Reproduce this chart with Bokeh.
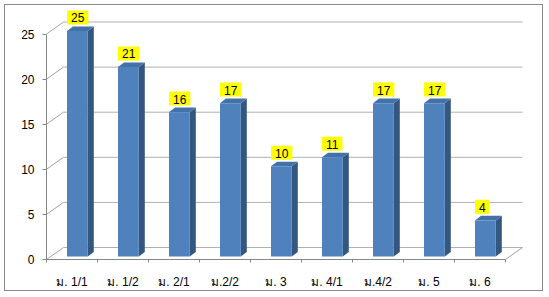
from bokeh.plotting import figure
from bokeh.models import FixedTicker, ColumnDataSource
from bokeh.core.properties import value
from bokeh.embed import file_html
from bokeh.resources import INLINE

# ---- data ----
categories = ["ม. 1/1", "ม. 1/2", "ม. 2/1", "ม.2/2", "ม. 3", "ม. 4/1", "ม.4/2", "ม. 5", "ม. 6"]
counts = [25, 21, 16, 17, 10, 11, 17, 17, 4]
y_ticks = [0, 5, 10, 15, 20, 25]

# ---- geometry (data units) ----
XPX, YPX = 51.0, 9.02
n = len(categories)
WALL_DX, WALL_DY = 17 / XPX, 12 / YPX        # depth of the 3-D box
BAR_L, BAR_R = 20.5 / XPX, 41.3 / XPX         # bar front face inside a category
BAR_BASE = 3 / YPX
BAR_DX, BAR_DY = 6 / XPX, 4.6 / YPX           # bar depth

p = figure(width=539, height=287, output_backend="svg", toolbar_location=None,
           x_range=(0, 481 / XPX), y_range=(0, 252 / YPX),
           min_border_left=41, min_border_right=17, min_border_top=2, min_border_bottom=33,
           background_fill_color="white", border_fill_color="white",
           styles={"margin": "4px 0 0 4px", "border": "1px solid #8a8a8a"})
p.outline_line_color = None
p.xgrid.visible = False
p.ygrid.visible = False

# walls
grid_col = "#b0b0b0"
p.segment(x0=[0] * len(y_ticks), y0=y_ticks,
          x1=[WALL_DX] * len(y_ticks), y1=[v + WALL_DY for v in y_ticks],
          line_color="#a0a0a0", line_width=1)
p.segment(x0=[WALL_DX] * len(y_ticks), y0=[v + WALL_DY for v in y_ticks],
          x1=[n + WALL_DX] * len(y_ticks), y1=[v + WALL_DY for v in y_ticks],
          line_color=grid_col, line_width=1)
p.segment(x0=[n], y0=[0], x1=[n + WALL_DX], y1=[WALL_DY], line_color="#a0a0a0", line_width=1)

# bars
lefts = [i + BAR_L for i in range(n)]
rights = [i + BAR_R for i in range(n)]
tops = [v + BAR_BASE for v in counts]
src = ColumnDataSource(dict(left=lefts, right=rights, bottom=[BAR_BASE] * n, top=tops))
side_xs = [[r, r + BAR_DX, r + BAR_DX, r] for r in rights]
side_ys = [[BAR_BASE, BAR_BASE + BAR_DY, t + BAR_DY, t] for t in tops]
top_xs = [[l, l + BAR_DX, r + BAR_DX, r] for l, r in zip(lefts, rights)]
top_ys = [[t, t + BAR_DY, t + BAR_DY, t] for t in tops]
p.patches(side_xs, side_ys, fill_color="#34577f", line_color=None)
p.patches(top_xs, top_ys, fill_color="#4372a8", line_color=None)
p.quad(left="left", right="right", bottom="bottom", top="top", source=src,
       fill_color="#4f81bd", line_color=None)

# value labels
lab = ColumnDataSource(dict(x=lefts, y=[t + BAR_DY + 2.0 / YPX for t in tops],
                            text=[str(v) for v in counts]))
p.text(x="x", y="y", text="text", source=lab, anchor="bottom_left",
       padding=dict(left=4, right=4, top=3, bottom=2),
       background_fill_color="#ffff00", text_color="black",
       text_font=value("Liberation Sans"), text_font_size="12px",
       text_align="left", text_baseline="bottom")

# axes
axis_col = "#868686"
yax = p.yaxis[0]
yax.ticker = FixedTicker(ticks=y_ticks)
yax.bounds = (0, 25)
yax.axis_line_color = axis_col
yax.major_tick_line_color = axis_col
yax.major_tick_in = 0
yax.major_tick_out = 4
yax.minor_tick_line_color = None
yax.major_label_standoff = 8
yax.major_label_text_font = "Liberation Sans"
yax.major_label_text_font_size = "12px"
yax.major_label_text_color = "black"

xax = p.xaxis[0]
xax.ticker = FixedTicker(ticks=[i + 0.5 for i in range(n)], minor_ticks=list(range(n + 1)))
xax.bounds = (0, n)
xax.major_label_overrides = {i + 0.5: c for i, c in enumerate(categories)}
xax.axis_line_color = axis_col
xax.major_tick_line_color = None
xax.minor_tick_line_color = axis_col
xax.minor_tick_in = 0
xax.minor_tick_out = 3
xax.major_label_standoff = 9
xax.major_label_text_font = "Liberation Sans"
xax.major_label_text_font_size = "12px"
xax.major_label_text_color = "black"

open("out.html", "w").write(file_html(p, INLINE))
